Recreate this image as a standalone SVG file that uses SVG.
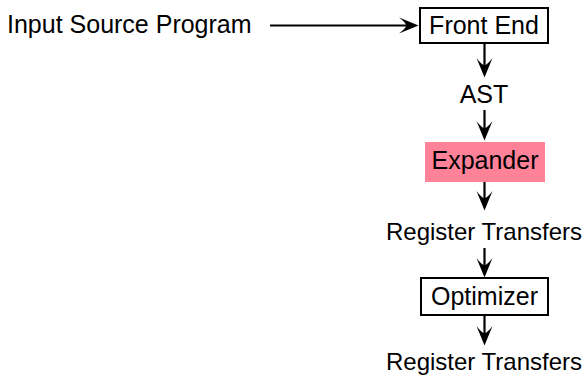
<svg xmlns="http://www.w3.org/2000/svg" width="587" height="376" viewBox="0 0 587 376">
  <style>
    text { font-family: "Liberation Sans", Arial, sans-serif; font-size: 25px; fill: #000; }
    .mid { text-anchor: middle; }
    .rt { font-size: 24px; }
    .box { fill: #fff; stroke: #000; stroke-width: 2; }
    .hl { fill: #ff8299; stroke: none; }
    .edge { stroke: #000; stroke-width: 2.2; fill: none; marker-end: url(#head); }
  </style>
  <defs>
    <!-- stealth-style arrowhead; tip sits 8px past the end of the line -->
    <marker id="head" markerUnits="userSpaceOnUse" markerWidth="20" markerHeight="17" viewBox="0 0 20 17" refX="11" refY="8.5" orient="auto">
      <path d="M19.5,8.5 L0,0.5 Q6,5 7.5,8.5 Q6,12 0,16.5 Z" fill="#000"/>
    </marker>
  </defs>

  <g id="input">
    <text x="7" y="33">Input Source Program</text>
  </g>

  <g id="frontend">
    <rect class="box" x="420" y="8" width="128" height="35"/>
    <text class="mid" x="484" y="34">Front End</text>
  </g>

  <g id="ast">
    <text class="mid" x="484" y="103">AST</text>
  </g>

  <g id="expander">
    <rect class="hl" x="425" y="142" width="120" height="40"/>
    <text class="mid" x="485" y="169">Expander</text>
  </g>

  <g id="rtl1">
    <text class="mid rt" x="484" y="240">Register Transfers</text>
  </g>

  <g id="optimizer">
    <rect class="box" x="421" y="278" width="127" height="37"/>
    <text class="mid" x="484.5" y="305">Optimizer</text>
  </g>

  <g id="rtl2">
    <text class="mid rt" x="484" y="370">Register Transfers</text>
  </g>

  <g id="connectors">
    <line class="edge" x1="270" y1="25.5" x2="410" y2="25.5"/>
    <line class="edge" x1="484.5" y1="43" x2="484.5" y2="69"/>
    <line class="edge" x1="484.5" y1="110" x2="484.5" y2="132"/>
    <line class="edge" x1="484.5" y1="182" x2="484.5" y2="202"/>
    <line class="edge" x1="484.5" y1="248" x2="484.5" y2="269"/>
    <line class="edge" x1="484.5" y1="315" x2="484.5" y2="337"/>
  </g>
</svg>
